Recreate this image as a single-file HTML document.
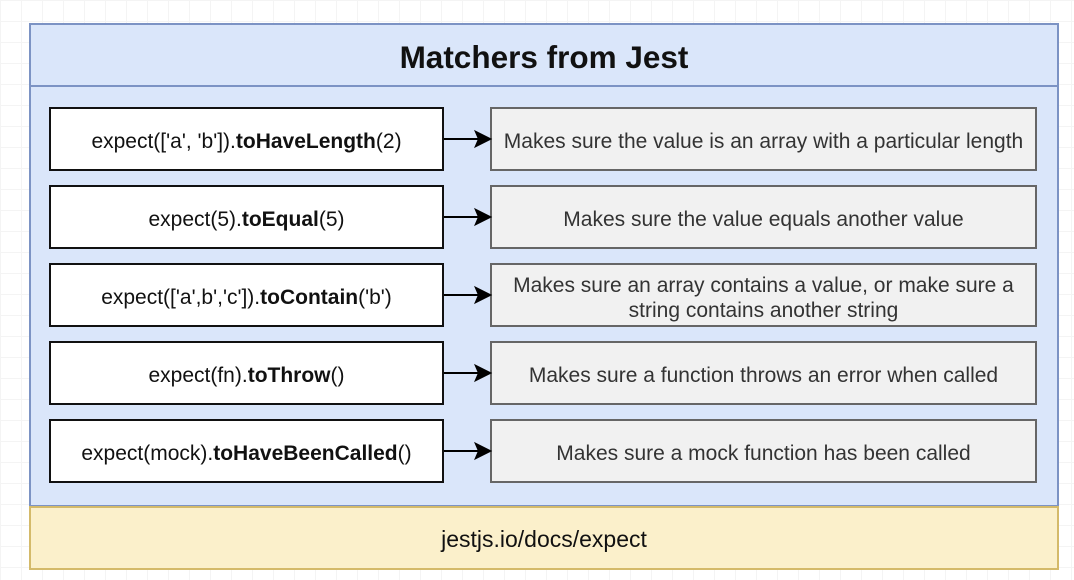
<!DOCTYPE html>
<html><head><style>
body{margin:0;width:1074px;height:580px;background:#fff;background-image:linear-gradient(#f4f4f4 1px,transparent 1px),linear-gradient(90deg,#f4f4f4 1px,transparent 1px);background-size:21px 21px;position:relative;overflow:hidden;font-family:"Liberation Sans",sans-serif}
.a{position:absolute;box-sizing:border-box}
.outer{left:29px;top:23px;width:1030px;height:484px;background:#dae6fa;border:2px solid #7c93c4}
.title{left:29px;top:23px;width:1030px;height:64px;border:2px solid #7c93c4;display:flex;align-items:center;justify-content:center;font-weight:bold;font-size:31.5px;color:#111;padding-top:4px}
.l{left:49px;width:395px;height:64px;background:#fff;border:2px solid #111;display:flex;align-items:center;justify-content:center;font-size:21px;color:#111;padding-top:5px}
.r{left:490px;width:547px;height:64px;background:#f1f1f1;border:2px solid #666;display:flex;align-items:center;justify-content:center;text-align:center;font-size:21px;color:#333;line-height:25px;padding-top:5px}
.y{left:29px;top:506px;width:1030px;height:64px;background:#fbf0cb;border:2px solid #d4ba6a;display:flex;align-items:center;justify-content:center;font-size:23px;color:#111;padding-top:3px}
</style></head><body>
<div class="a outer"></div>
<div class="a title">Matchers from Jest</div>
<div class="a l" style="top:107px">expect(['a', 'b']).<b>toHaveLength</b>(2)</div>
<div class="a r" style="top:107px">Makes sure the value is an array with a particular length</div>
<div class="a l" style="top:185px">expect(5).<b>toEqual</b>(5)</div>
<div class="a r" style="top:185px">Makes sure the value equals another value</div>
<div class="a l" style="top:263px">expect(['a',b','c']).<b>toContain</b>('b')</div>
<div class="a r" style="top:263px">Makes sure an array contains a value, or make sure a<br>string contains another string</div>
<div class="a l" style="top:341px">expect(fn).<b>toThrow</b>()</div>
<div class="a r" style="top:341px">Makes sure a function throws an error when called</div>
<div class="a l" style="top:419px">expect(mock).<b>toHaveBeenCalled</b>()</div>
<div class="a r" style="top:419px">Makes sure a mock function has been called</div>
<svg class="a" style="left:0;top:0" width="1074" height="580">
<g stroke="#000" stroke-width="2" fill="#000">
<line x1="444" y1="139" x2="478" y2="139"/><polygon points="490,139 476,132 479,139 476,146"/>
<line x1="444" y1="217" x2="478" y2="217"/><polygon points="490,217 476,210 479,217 476,224"/>
<line x1="444" y1="295" x2="478" y2="295"/><polygon points="490,295 476,288 479,295 476,302"/>
<line x1="444" y1="373" x2="478" y2="373"/><polygon points="490,373 476,366 479,373 476,380"/>
<line x1="444" y1="451" x2="478" y2="451"/><polygon points="490,451 476,444 479,451 476,458"/>
</g></svg>
<div class="a y">jestjs.io/docs/expect</div>
</body></html>
